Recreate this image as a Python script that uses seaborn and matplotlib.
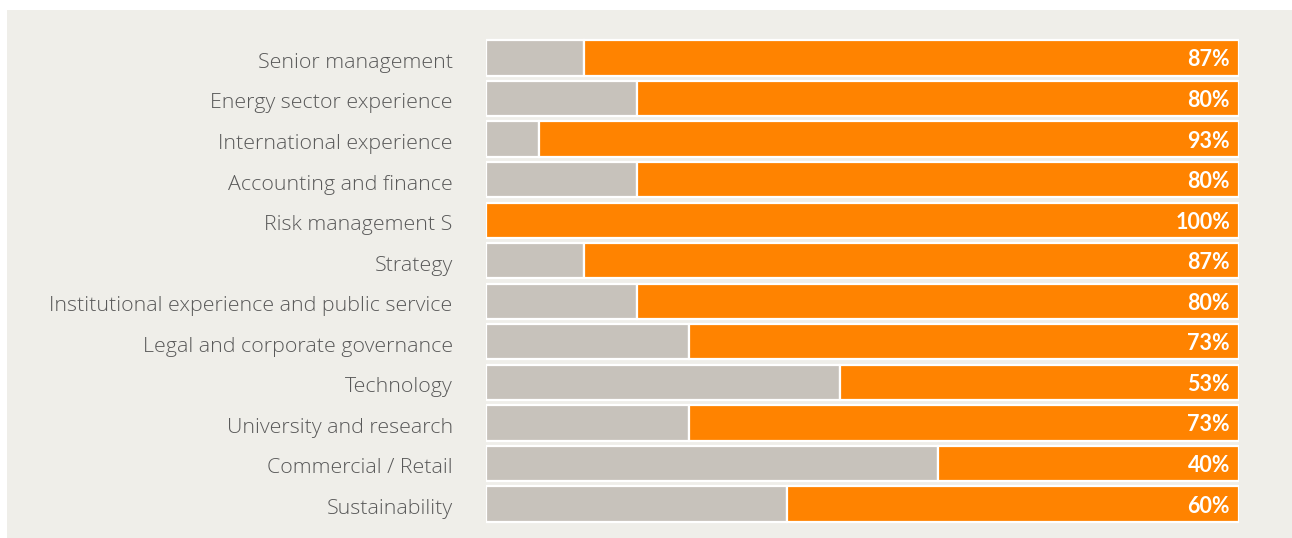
import matplotlib
matplotlib.use("Agg")
import matplotlib.pyplot as plt
import matplotlib.transforms as mtransforms
from matplotlib.patches import Rectangle
import seaborn as sns
import pandas as pd

# Board skills and the share of directors holding each one
skills = [
    "Senior management",
    "Energy sector experience",
    "International experience",
    "Accounting and finance",
    "Risk management S",
    "Strategy",
    "Institutional experience and public service",
    "Legal and corporate governance",
    "Technology",
    "University and research",
    "Commercial / Retail",
    "Sustainability",
]
share = [87, 80, 93, 80, 100, 87, 80, 73, 53, 73, 40, 60]

ORANGE = "#FF8300"
GREY = "#C7C2BB"
PANEL = "#EFEEE9"
TEXT = "#595959"

df = pd.DataFrame({"skill": skills, "share": share})
df["rest"] = 100 - df["share"]

sns.set_theme(style="white")
plt.rcParams["font.family"] = ["Lato", "DejaVu Sans"]

W, H = 1292, 538
fig = plt.figure(figsize=(W / 100, H / 100), dpi=100)
fig.patch.set_facecolor("white")
fig.patches.append(Rectangle((7 / W, 0), 1 - 7 / W, (H - 10) / H,
                             transform=fig.transFigure, facecolor=PANEL,
                             edgecolor="none", zorder=-10))

ax = fig.add_axes([486 / W, 0.0255, (1239 - 486) / W, 0.9045])
ax.set_facecolor("none")

bar_h = 0.87
# grey remainder on the left
sns.barplot(data=df, x="rest", y="skill", orient="h", color=GREY,
            width=bar_h, edgecolor="white", linewidth=1.6, saturation=1,
            ax=ax)
# orange share on the right
pos = range(len(df))
ax.barh(list(pos), df["share"], left=df["rest"], height=bar_h,
        color=ORANGE, edgecolor="white", linewidth=1.6)

for i, v in enumerate(df["share"]):
    ax.annotate(f"{v}%", xy=(100, i), xytext=(-9, -2),
                textcoords="offset pixels", ha="right", va="center",
                color="white", fontsize=15.5, fontweight="bold")

ax.set_xlim(0, 100)
ax.set_ylim(len(df) - 0.5, -0.5)
ax.set_xlabel("")
ax.set_ylabel("")
ax.set_xticks([])
ax.tick_params(axis="y", length=0, pad=24, labelcolor=TEXT)
shift = mtransforms.ScaledTranslation(0, -2.5 / 100, fig.dpi_scale_trans)
for lab in ax.get_yticklabels():
    lab.set_fontfamily(["Open Sans", "DejaVu Sans"])
    lab.set_fontweight("light")
    lab.set_fontsize(15.4)
    lab.set_transform(lab.get_transform() + shift)
sns.despine(ax=ax, left=True, bottom=True)

fig.savefig("out.png", dpi=100)
